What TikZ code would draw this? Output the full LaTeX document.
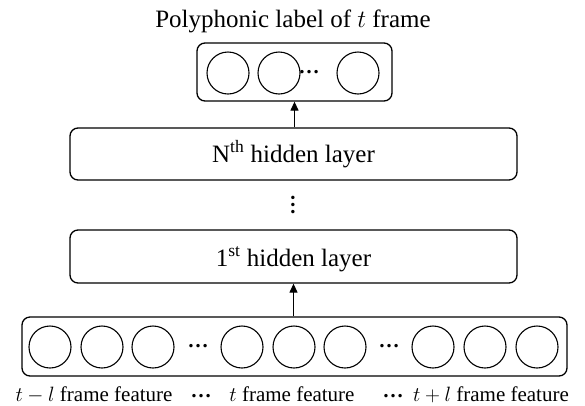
\documentclass[tikz,border=0pt]{standalone}
\usepackage{fontspec}
\setmainfont{Liberation Serif}
\usetikzlibrary{arrows.meta}
\begin{document}
\begin{tikzpicture}[x=1pt,y=-1pt,
  big/.style={font=\fontsize{25}{30}\selectfont,inner sep=0pt,anchor=base},
  caption/.style={font=\fontsize{21}{25}\selectfont,inner sep=0pt,anchor=base},
  layerbox/.style={draw,line width=1.3pt,rounded corners=8pt,inner sep=0pt},
  unit/.style={draw,line width=1.1pt,circle,minimum size=42pt,inner sep=0pt},
  hdots/.style={font=\fontsize{21}{25}\selectfont\bfseries,inner sep=0pt},
  uparrow/.style={line width=1.2pt,-{Triangle[width=8pt,length=9pt]}}]
\useasboundingbox (0,0) rectangle (585,405);

% output layer
\node[big] (title) at (293,27) {Polyphonic label of $t$ frame};
\node[layerbox,minimum width=195pt,minimum height=58pt] (out) at (294.5,72) {};
\node[unit] (o1) at (228,73) {};
\node[unit] (o2) at (279,73) {};
\node[hdots] (od) at (309,72) {…};
\node[unit] (o3) at (358,73) {};

% hidden layers
\node[layerbox,minimum width=447pt,minimum height=52pt] (hn) at (293.5,154) {};
\node[big] (hnt) at (293.5,162) {N\textsuperscript{th} hidden layer};
\node[hdots,rotate=90] (vd) at (293,205) {…};
\node[layerbox,minimum width=447pt,minimum height=53pt] (h1) at (293.5,256.5) {};
\node[big] (h1t) at (293.5,266) {1\textsuperscript{st} hidden layer};

% input layer
\node[layerbox,minimum width=545pt,minimum height=59pt] (in) at (294.5,346.5) {};
\node[unit] (i1) at (50,347) {};
\node[unit] (i2) at (102,347) {};
\node[unit] (i3) at (153,347) {};
\node[hdots] (id1) at (198,346) {…};
\node[unit] (i4) at (242,347) {};
\node[unit] (i5) at (294,347) {};
\node[unit] (i6) at (345,347) {};
\node[hdots] (id2) at (389,346) {…};
\node[unit] (i7) at (433,347) {};
\node[unit] (i8) at (485,347) {};
\node[unit] (i9) at (537,347) {};

% frame captions
\node[caption] (c1) at (94,401) {$t-l$ frame feature};
\node[hdots] (cd1) at (201,396) {…};
\node[caption] (c2) at (292,401) {$t$ frame feature};
\node[hdots] (cd2) at (393,396) {…};
\node[caption] (c3) at (491,401) {$t+l$ frame feature};

% connectors
\draw[uparrow] (hn.north -| out.south) -- (out.south);
\draw[uparrow] (in.north -| h1.south) -- (h1.south);
\end{tikzpicture}
\end{document}
